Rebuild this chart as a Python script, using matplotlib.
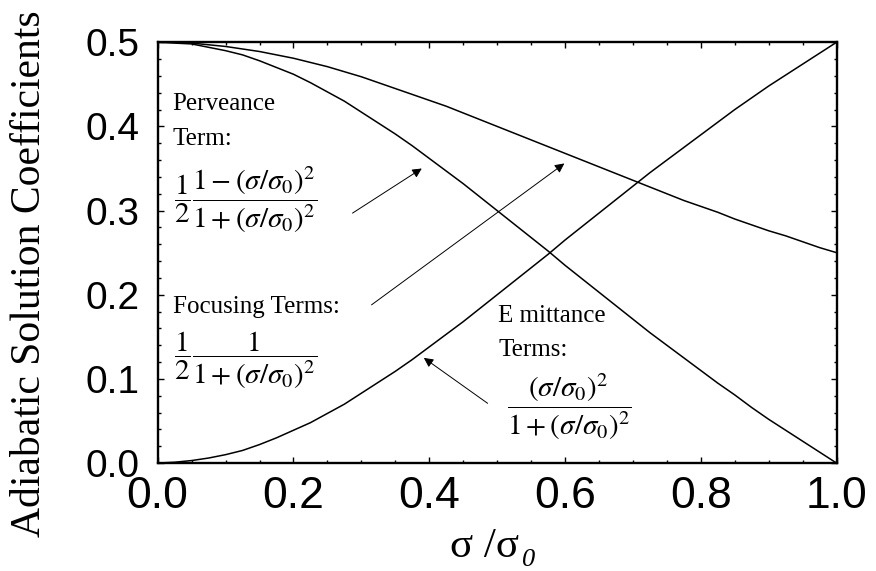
import numpy as np
import matplotlib
matplotlib.use('Agg')
import matplotlib.pyplot as plt
from matplotlib.ticker import MultipleLocator

# values, every 0.025 in sigma/sigma0
x = [0.000, 0.025, 0.050, 0.075, 0.100, 0.125, 0.150, 0.175, 0.200, 0.225, 0.250,
     0.275, 0.300, 0.325, 0.350, 0.375, 0.400, 0.425, 0.450, 0.475, 0.500,
     0.525, 0.550, 0.575, 0.600, 0.625, 0.650, 0.675, 0.700, 0.725, 0.750,
     0.775, 0.800, 0.825, 0.850, 0.875, 0.900, 0.925, 0.950, 0.975, 1.000]
focusing = [0.500, 0.500, 0.499, 0.497, 0.495, 0.492, 0.489, 0.485, 0.481, 0.476, 0.471,
            0.465, 0.459, 0.452, 0.445, 0.438, 0.431, 0.424, 0.416, 0.408, 0.400,
            0.392, 0.384, 0.376, 0.368, 0.360, 0.352, 0.344, 0.336, 0.328, 0.320,
            0.312, 0.305, 0.298, 0.290, 0.283, 0.276, 0.270, 0.263, 0.256, 0.250]
perveance = [0.500, 0.499, 0.498, 0.494, 0.490, 0.485, 0.478, 0.470, 0.462, 0.452, 0.441,
             0.430, 0.417, 0.404, 0.391, 0.377, 0.362, 0.347, 0.332, 0.316, 0.300,
             0.284, 0.268, 0.252, 0.235, 0.219, 0.203, 0.187, 0.171, 0.155, 0.140,
             0.125, 0.110, 0.095, 0.081, 0.066, 0.052, 0.039, 0.026, 0.013, 0.000]
emittance = [0.000, 0.001, 0.003, 0.006, 0.010, 0.015, 0.022, 0.030, 0.039, 0.048, 0.059,
             0.070, 0.083, 0.096, 0.109, 0.123, 0.138, 0.153, 0.168, 0.184, 0.200,
             0.216, 0.232, 0.248, 0.265, 0.281, 0.297, 0.313, 0.329, 0.345, 0.360,
             0.375, 0.390, 0.405, 0.420, 0.434, 0.448, 0.461, 0.474, 0.487, 0.500]

plt.rcParams['mathtext.fontset'] = 'stix'
serif = 'Liberation Serif'

fig = plt.figure(figsize=(8.76, 5.71), dpi=100)
ax = fig.add_axes([0.180, 0.189, 0.775, 0.737])

ax.plot(x, focusing, color='black', lw=1.1)
ax.plot(x, perveance, color='black', lw=1.1)
ax.plot(x, emittance, color='black', lw=1.1)

ax.set_xlim(0, 1)
ax.set_ylim(0, 0.5)
ax.xaxis.set_major_locator(MultipleLocator(0.2))
ax.xaxis.set_minor_locator(MultipleLocator(0.05))
ax.yaxis.set_major_locator(MultipleLocator(0.1))
ax.yaxis.set_minor_locator(MultipleLocator(0.02))
ax.tick_params(which='both', direction='in', top=True, right=True, width=1.0)
ax.tick_params(which='major', length=4)
ax.tick_params(which='minor', length=2.5)
ax.tick_params(axis='x', labelsize=32, pad=9)
ax.tick_params(axis='y', labelsize=28, pad=13)
ax.xaxis.set_major_formatter('{x:.1f}')
ax.yaxis.set_major_formatter('{x:.1f}')
for lab in ax.get_xticklabels() + ax.get_yticklabels():
    lab.set_fontfamily('Liberation Sans')
for s in ax.spines.values():
    s.set_linewidth(1.7)

fig.text(30 / 876, 1 - 274 / 571, 'Adiabatic Solution Coefficients', fontfamily=serif,
         fontsize=30, rotation=90, ha='center', va='center')
fig.text(450 / 876, 1 - 557 / 571, 'σ /σ', fontfamily=serif,
         fontsize=31, ha='left', va='baseline')
fig.text(522 / 876, 1 - 566 / 571, '0', fontfamily=serif, style='italic',
         fontsize=19, ha='left', va='baseline')

# annotations
fs = 18
ax.text(0.022, 0.419, 'Perveance', fontfamily=serif, fontsize=fs, va='baseline')
ax.text(0.022, 0.378, 'Term:', fontfamily=serif, fontsize=fs, va='baseline')
ax.text(0.024, 0.313, r'$\dfrac{1}{2}\dfrac{1-(\sigma/\sigma_0)^2}{1+(\sigma/\sigma_0)^2}$',
        fontsize=21, va='center')
ax.text(0.022, 0.178, 'Focusing Terms:', fontfamily=serif, fontsize=fs, va='baseline')
ax.text(0.024, 0.122, r'$\dfrac{1}{2}\dfrac{1}{1+(\sigma/\sigma_0)^2}$',
        fontsize=21, va='center')
ax.text(0.502, 0.1675, 'E mittance', fontfamily=serif, fontsize=fs, va='baseline')
ax.text(0.502, 0.127, 'Terms:', fontfamily=serif, fontsize=fs, va='baseline')
ax.text(0.514, 0.067, r'$\dfrac{(\sigma/\sigma_0)^2}{1+(\sigma/\sigma_0)^2}$',
        fontsize=21, va='center')

arrow = dict(arrowstyle='-|>', color='black', lw=0.7, mutation_scale=14, shrinkA=0, shrinkB=0)
ax.annotate('', xy=(0.389, 0.350), xytext=(0.287, 0.297), arrowprops=arrow)
ax.annotate('', xy=(0.599, 0.356), xytext=(0.315, 0.188), arrowprops=arrow)
ax.annotate('', xy=(0.392, 0.125), xytext=(0.486, 0.071), arrowprops=arrow)

fig.savefig('out.png', dpi=100)
